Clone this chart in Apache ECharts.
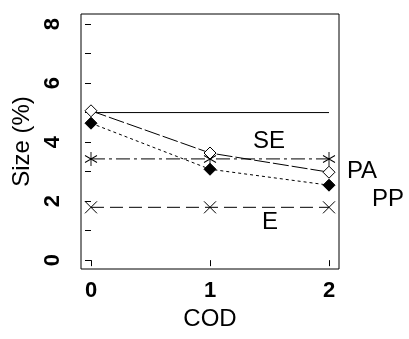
<!DOCTYPE html>
<html><head><meta charset="utf-8">
<script src="https://cdn.jsdelivr.net/npm/echarts@6/dist/echarts.min.js"></script>
<style>html,body{margin:0;padding:0;background:#fff}#c{width:409px;height:339px}</style>
</head><body><div id="c"></div>
<script>
const cod = [0, 1, 2];
const nominal = [5.0, 5.0, 5.0];
const seOpen = [5.06, 3.63, 2.98];
const ppFilled = [4.64, 3.08, 2.54];
const paStar = [3.43, 3.43, 3.43];
const eCross = [1.79, 1.79, 1.79];
const yTicks = [0, 1, 2, 3, 4, 5, 6, 7, 8];
const yLabels = [0, 2, 4, 6, 8];
const xLabels = [0, 1, 2];
const labels = [
  {text: 'SE', x: 269, y: 141},
  {text: 'E', x: 270, y: 222},
  {text: 'PA', x: 362, y: 171},
  {text: 'PP', x: 388, y: 199}
];

const F = 'Liberation Sans, Arial, sans-serif';
const pair = (vals) => cod.map((c, i) => [c, vals[i]]);
const asterisk = 'path://M0,-1L0,1M-0.866,-0.5L0.866,0.5M-0.866,0.5L0.866,-0.5';
const cross = 'path://M-1,-1L1,1M-1,1L1,-1';

const chart = echarts.init(document.getElementById('c'), null, {renderer: 'canvas'});
chart.setOption({
  animation: false,
  backgroundColor: '#fff',
  grid: {left: 81, top: 14, width: 258, height: 255, show: true, borderColor: '#000', borderWidth: 1, backgroundColor: 'transparent'},
  xAxis: {
    type: 'value', min: -0.084, max: 2.084,
    name: 'COD', nameLocation: 'middle', nameGap: 37,
    nameTextStyle: {fontFamily: F, fontSize: 24, color: '#000'},
    axisLine: {show: false},
    splitLine: {show: false},
    axisTick: {show: true, length: 6, lineStyle: {color: '#000', width: 1}, customValues: xLabels},
    axisLabel: {fontFamily: F, fontSize: 22, fontWeight: 'bold', color: '#000', margin: 11, customValues: xLabels}
  },
  yAxis: {
    type: 'value', min: -0.3, max: 8.34,
    name: 'Size (%)', nameLocation: 'middle', nameGap: 38, nameRotate: 90,
    nameTextStyle: {fontFamily: F, fontSize: 24, color: '#000'},
    axisLine: {show: false},
    splitLine: {show: false},
    axisTick: {show: true, length: 6, lineStyle: {color: '#000', width: 1}, customValues: yTicks},
    axisLabel: {fontFamily: F, fontSize: 22, fontWeight: 'bold', color: '#000', rotate: 90, margin: 17, customValues: yLabels}
  },
  series: [
    {type: 'line', data: pair(nominal), symbol: 'none', lineStyle: {color: '#000', width: 1}, z: 1},
    {type: 'line', data: pair(eCross), symbol: cross, symbolSize: 12,
     itemStyle: {color: 'transparent', borderColor: '#000', borderWidth: 1},
     lineStyle: {color: '#000', width: 1, type: [13, 6]}},
    {type: 'line', data: pair(paStar), symbol: asterisk, symbolSize: [12, 14],
     itemStyle: {color: 'transparent', borderColor: '#000', borderWidth: 1},
     lineStyle: {color: '#000', width: 1, type: [14, 4, 3, 4]}},
    {type: 'line', data: pair(ppFilled), symbol: 'diamond', symbolSize: 12,
     itemStyle: {color: '#000', borderColor: '#000', borderWidth: 1},
     lineStyle: {color: '#000', width: 1, type: [3, 3]}},
    {type: 'line', data: pair(seOpen), symbol: 'diamond', symbolSize: 12,
     itemStyle: {color: '#fff', borderColor: '#000', borderWidth: 1},
     lineStyle: {color: '#000', width: 1, type: [16, 3]}}
  ],
  graphic: labels.map(l => ({
    type: 'text', x: l.x, y: l.y,
    style: {text: l.text, fontFamily: F, fontSize: 24, fill: '#000', align: 'center', verticalAlign: 'middle'}
  }))
});
</script></body></html>
